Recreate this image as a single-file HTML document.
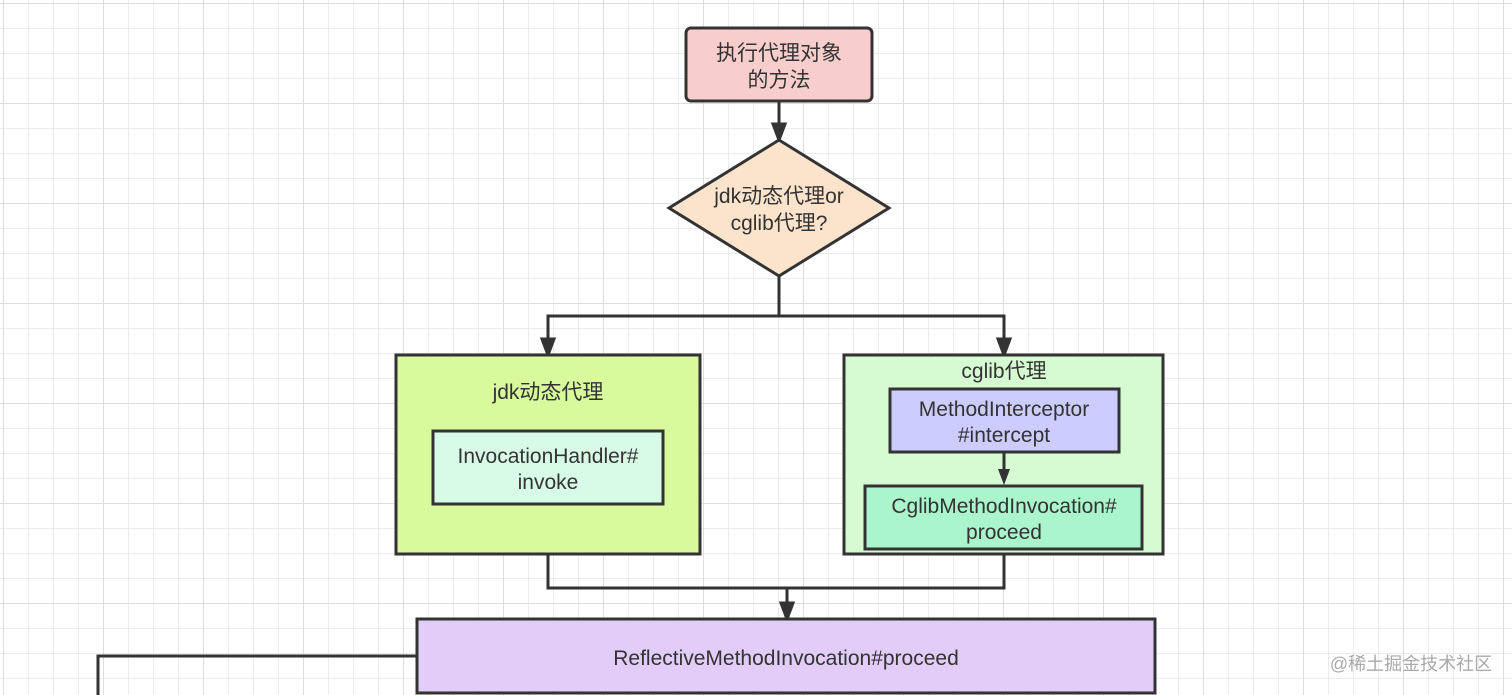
<!DOCTYPE html>
<html><head><meta charset="utf-8"><style>
html,body{margin:0;padding:0;background:#fff;}
svg{display:block;}
text{font-family:"Liberation Sans","Noto Sans CJK SC",sans-serif;fill:#333;text-anchor:middle;}
</style></head><body>
<svg width="1512" height="695" viewBox="0 0 1512 695" xmlns="http://www.w3.org/2000/svg">
<defs>
<pattern id="g" x="3" y="3" width="25" height="25" patternUnits="userSpaceOnUse"><path d="M0 0H25M0 0V25" stroke="#e6e6e6" stroke-width="1.5" fill="none"/></pattern>
<pattern id="G" x="3" y="3" width="100" height="100" patternUnits="userSpaceOnUse"><path d="M0 0H100M0 0V100" stroke="#dddddd" stroke-width="2" fill="none"/></pattern>
</defs>
<rect width="1512" height="695" fill="url(#g)"/>
<rect width="1512" height="695" fill="url(#G)"/>
<g stroke="#333" stroke-width="3" fill="none">
<path d="M779 101V127"/><path d="M773 124L785 124L779 140Z" fill="#333"/>
<path d="M779 276V316H548V340M779 316H1004V340"/>
<path d="M542 339L554 339L548 355Z" fill="#333"/><path d="M998 339L1010 339L1004 355Z" fill="#333"/>
<path d="M548 554V588H787V604M1004 554V588H787"/><path d="M781 603L793 603L787 619Z" fill="#333"/>
<path d="M417 656H98V695"/>
</g>
<rect x="686" y="28" width="186" height="73" rx="5" fill="#f8cecc" stroke="#333" stroke-width="3"/>
<text x="779" y="60" font-size="21">执行代理对象</text>
<text x="779" y="87" font-size="21">的方法</text>
<path d="M779 140L889 208L779 276L669 208Z" fill="#fce4cc" stroke="#333" stroke-width="3"/>
<text x="779" y="203" font-size="21">jdk动态代理or</text>
<text x="779" y="230" font-size="21">cglib代理?</text>
<rect x="396" y="355" width="304" height="199" fill="#d8f99c" stroke="#333" stroke-width="3"/>
<text x="548" y="399" font-size="21">jdk动态代理</text>
<rect x="433" y="431" width="230" height="73" fill="#d8fbe8" stroke="#333" stroke-width="3"/>
<text x="548" y="463" font-size="21">InvocationHandler#</text>
<text x="548" y="489" font-size="21">invoke</text>
<rect x="844" y="355" width="319" height="199" fill="#d6fbd2" stroke="#333" stroke-width="3"/>
<text x="1004" y="378" font-size="21">cglib代理</text>
<rect x="890" y="389" width="229" height="63" fill="#ccccfe" stroke="#333" stroke-width="3"/>
<text x="1004" y="416" font-size="21">MethodInterceptor</text>
<text x="1004" y="442" font-size="21">#intercept</text>
<rect x="865" y="486" width="277" height="63" fill="#abf5cd" stroke="#333" stroke-width="3"/>
<text x="1004" y="513" font-size="21">CglibMethodInvocation#</text>
<text x="1004" y="539" font-size="21">proceed</text>
<path d="M1004 452V472" stroke="#333" stroke-width="3"/><path d="M998 469L1010 469L1004 485Z" fill="#333"/>
<rect x="417" y="619" width="738" height="74" fill="#e1cdf7" stroke="#333" stroke-width="3"/>
<text x="786" y="665" font-size="21">ReflectiveMethodInvocation#proceed</text>
<text x="1411" y="670" font-size="18" style="fill:#aaa">@稀土掘金技术社区</text>
</svg>
</body></html>
